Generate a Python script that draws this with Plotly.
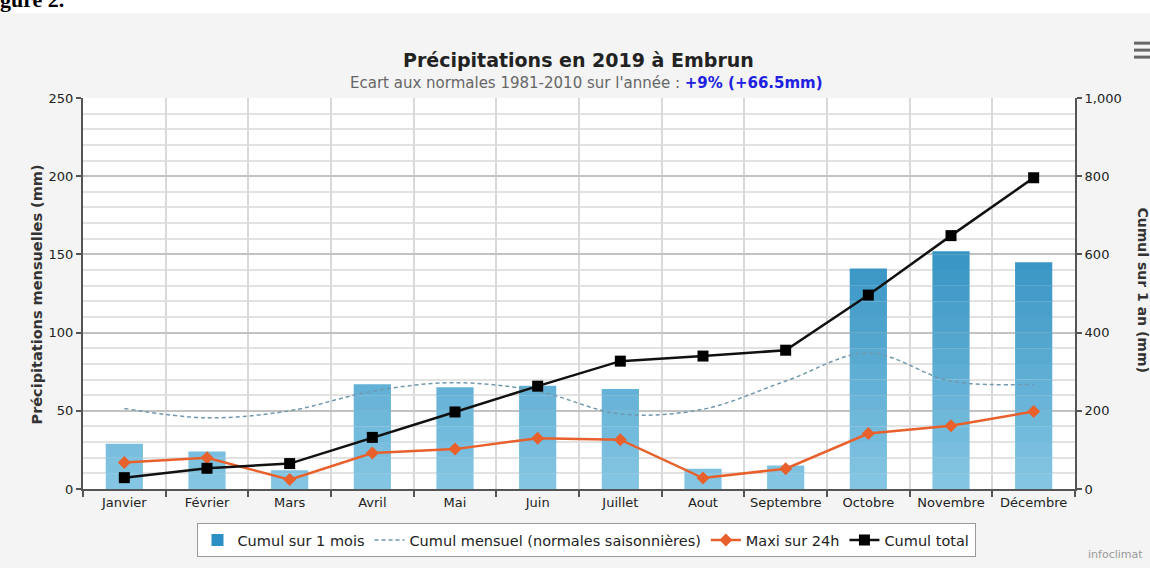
import plotly.graph_objects as go

# Données (mm)
mois = ["Janvier", "Février", "Mars", "Avril", "Mai", "Juin", "Juillet",
        "Aout", "Septembre", "Octobre", "Novembre", "Décembre"]
cumul_mois = [29, 24, 12, 67, 65, 66, 64, 13, 15, 141, 152, 145]
normales = [51.5, 45.5, 50, 62.5, 68, 62.5, 48, 51, 69, 87, 69, 67]
maxi_24h = [17, 20, 6, 23, 25.5, 32.5, 31.5, 7, 13, 35.5, 40.5, 49.5]
cumul_total = [29, 53, 65, 132, 197, 263, 327, 340, 355, 496, 648, 796]

FONT = "DejaVu Sans"

fig = go.Figure()

# entrée de légende des barres (pas de barre visible)
fig.add_trace(go.Bar(
    x=mois, y=[None] * len(mois), name="Cumul sur 1 mois",
    marker=dict(color="#2b8fc6", line=dict(width=0)),
))
# barres avec un dégradé vertical (clair en bas, foncé en haut) : tranches de 10 mm
bas, haut = (0x86, 0xc7, 0xe3), (0x36, 0x94, 0xc4)
pas = 10
for b in range(0, int(max(cumul_mois)) + pas, pas):
    t = min((b + pas / 2) / 150, 1)
    c = "rgb({},{},{})".format(*[round(lo + (hi - lo) * t) for lo, hi in zip(bas, haut)])
    fig.add_trace(go.Bar(
        x=mois, y=[max(0, min(v, b + pas) - b) for v in cumul_mois], base=b,
        marker=dict(color=c, line=dict(width=0)), showlegend=False,
        customdata=cumul_mois, hovertemplate="%{x}: %{customdata} mm<extra></extra>",
    ))
fig.add_trace(go.Scatter(
    x=mois, y=normales, name="Cumul mensuel (normales saisonnières)",
    mode="lines", line=dict(color="#7198ad", width=1.5, dash="4px,3px", shape="spline"),
))
fig.add_trace(go.Scatter(
    x=mois, y=maxi_24h, name="Maxi sur 24h",
    mode="lines+markers", line=dict(color="#e8612c", width=2.5),
    marker=dict(symbol="diamond", size=10, color="#e8612c"),
))
fig.add_trace(go.Scatter(
    x=mois, y=cumul_total, name="Cumul total", yaxis="y2",
    mode="lines+markers", line=dict(color="#111111", width=2.5),
    marker=dict(symbol="square", size=11, color="#000000"),
))

# helpers pixel -> paper (zone de tracé 83..1075 x 98..490)
def px(x):
    return (x - 83) / 992

def py(y):
    return (490 - y) / 392

shapes = [
    # bande blanche en haut (document)
    dict(type="rect", xref="paper", yref="paper", x0=px(-5), x1=px(1155),
         y0=py(13), y1=py(-5), fillcolor="white", line=dict(width=0), layer="below"),
]
# menu hamburger
for yy in (43, 50, 57):
    shapes.append(dict(type="line", xref="paper", yref="paper",
                       x0=px(1134), x1=px(1151), y0=py(yy), y1=py(yy),
                       line=dict(color="#666666", width=3)))

annotations = [
    dict(text="<b>Précipitations en 2019 à Embrun</b>", xref="paper", yref="paper",
         x=px(578), y=py(47), showarrow=False, font=dict(family=FONT, size=19, color="#222222")),
    dict(text="Ecart aux normales 1981-2010 sur l'année : "
              "<span style='color:#2020e0'><b>+9% (+66.5mm)</b></span>",
         xref="paper", yref="paper", x=px(586), y=py(72), showarrow=False,
         font=dict(family=FONT, size=15, color="#666666")),
    dict(text="<b>Précipitations mensuelles (mm)</b>", xref="paper", yref="paper",
         x=px(27), y=py(295), showarrow=False, textangle=-90,
         font=dict(family=FONT, size=14.5, color="#333333")),
    dict(text="<b>Cumul sur 1 an (mm)</b>", xref="paper", yref="paper",
         x=px(1153), y=py(290), showarrow=False, textangle=90,
         font=dict(family=FONT, size=14, color="#333333")),
    dict(text="infoclimat", xref="paper", yref="paper", x=px(1086), y=py(564),
         xanchor="left", showarrow=False, font=dict(family=FONT, size=11, color="#999999")),
    dict(text="<b>gure 2.</b>", xref="paper", yref="paper", x=px(-2), y=py(14),
         xanchor="left", yanchor="bottom", showarrow=False,
         font=dict(family="Liberation Serif", size=22, color="#000000")),
]

tick_font = dict(family=FONT, size=13, color="#222222")

fig.update_layout(
    width=1150, height=568,
    margin=dict(l=83, r=75, t=98, b=78),
    paper_bgcolor="#f4f4f4", plot_bgcolor="white",
    font=dict(family=FONT, size=12, color="#333333"),
    barmode="overlay", bargap=0.55,
    showlegend=True,
    legend=dict(orientation="h", x=px(586), xanchor="center", y=py(540), yanchor="middle",
                bgcolor="white", bordercolor="#999999", borderwidth=1,
                font=dict(family=FONT, size=14.5, color="#222222"), itemwidth=30),
    xaxis=dict(
        type="category", tickson="boundaries", showgrid=True, gridcolor="#d9d9d9", gridwidth=1.5,
        showline=True, linecolor="#555555", linewidth=2, ticks="outside", ticklen=6,
        tickcolor="#555555", tickwidth=2, tickfont=tick_font, tickangle=0,
        range=[-0.5, 11.5],
    ),
    yaxis=dict(
        range=[0, 250], dtick=50, showgrid=True, gridcolor="#c2c2c2", gridwidth=2,
        minor=dict(dtick=10, showgrid=True, gridcolor="#e2e2e2", gridwidth=1.5),
        showline=True, linecolor="#555555", linewidth=2, ticks="outside", ticklen=5,
        tickcolor="#555555", tickwidth=2, zeroline=False, tickfont=tick_font,
    ),
    yaxis2=dict(
        range=[0, 1000], dtick=200, overlaying="y", side="right", showgrid=False,
        showline=True, linecolor="#555555", linewidth=2, ticks="outside", ticklen=5,
        tickcolor="#555555", tickwidth=2, tickformat=",", zeroline=False, tickfont=tick_font,
    ),
    shapes=shapes,
    annotations=annotations,
)

fig.write_html("out.html", config={"displayModeBar": False},
               post_script="document.body.style.margin='0';")
